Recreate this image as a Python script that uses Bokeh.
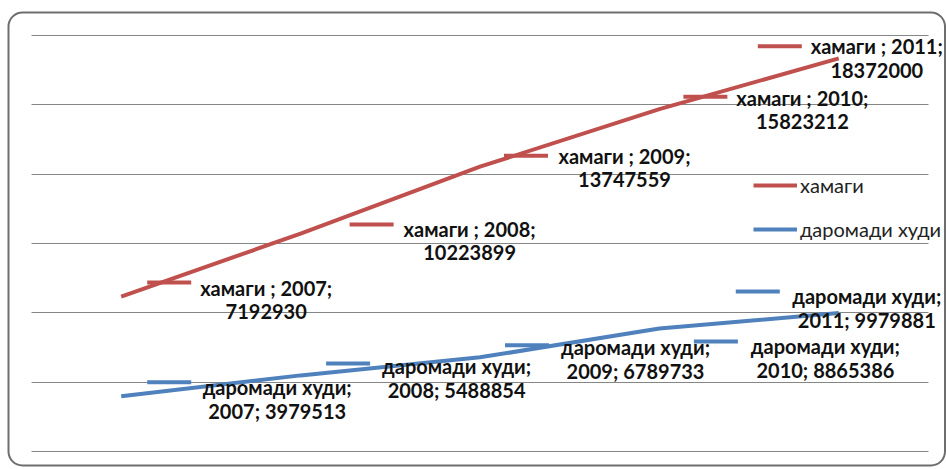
from bokeh.plotting import figure
from bokeh.models import (ColumnDataSource, Range1d, SingleIntervalTicker, Legend,
                          LegendItem, BoxAnnotation)
from bokeh.core.properties import value
from bokeh.embed import file_html
from bokeh.resources import INLINE

# ---- data ----
years = ["2007", "2008", "2009", "2010", "2011"]
hamagi = [7192930, 10223899, 13747559, 15823212, 18372000]
daromad = [3979513, 5488854, 6789733, 8865386, 9979881]
series_names = ["хамаги", "даромади худи"]

RED = "#C0504D"
BLUE = "#4F81BD"
FONT = "Lato"

W, H = 946, 469
# plot-area geometry in canvas pixels
PA_L, PA_R = 31, 928
PA_T, PA_B = 35, 451
Y_MAX = 30e6
PXX = (PA_R - PA_L) / len(years)
PXY = (PA_B - PA_T) / Y_MAX

x_start = -0.5 - PA_L / PXX
x_end = -0.5 + (W - PA_L) / PXX
y_start = -(H - PA_B) / PXY
y_end = PA_B / PXY

xs = list(range(len(years)))
blue_y = list(daromad)
red_y = [b + r for b, r in zip(daromad, hamagi)]  # stacked line

p = figure(width=W, height=H, output_backend="svg", toolbar_location=None,
           x_range=Range1d(x_start, x_end), y_range=Range1d(y_start, y_end),
           min_border=0)
p.xaxis.visible = False
p.yaxis.visible = False
p.yaxis.ticker = SingleIntervalTicker(interval=5e6)
p.ygrid.ticker = SingleIntervalTicker(interval=5e6)
p.ygrid.bounds = (0, Y_MAX)
p.ygrid.cross_bounds = (-0.5, len(years) - 0.5)
p.xgrid.visible = False
p.ygrid.grid_line_color = "#868686"
p.ygrid.grid_line_width = 1
p.outline_line_color = None
p.background_fill_color = "white"
p.border_fill_color = "white"

# rounded chart border
p.add_layout(BoxAnnotation(left=-0.5 - (PA_L - 8) / PXX,
                           right=-0.5 + (W - 1.5 - PA_L) / PXX,
                           top=Y_MAX + (PA_T - 12) / PXY,
                           bottom=-(465 - PA_B) / PXY,
                           fill_color=None, fill_alpha=0,
                           line_color="#6e6e6e", line_width=2, line_alpha=1,
                           border_radius=14))

r_red = p.line(xs, red_y, line_color=RED, line_width=4)
r_blue = p.line(xs, blue_y, line_color=BLUE, line_width=4)

# ---- data labels (pixel offsets from each point; screen y down) ----
red_lab = dict(dx=[145, 169, 144.5, 143, 38], dy1=[-9, -5, -11, -11.5, -12],
               kdx=[48, 71, 46, 46, -59], kdy=[-14, -9, -11, -12.5, -12])
blue_lab = dict(dx=[156, 156, 155.5, 166, 28], dy1=[-9, -9, -10, 17, -17.5],
                kdx=[48, 47.5, 47, 56.5, -81], kdy=[-14, -12, -12, 13, -21.5])
LINE_GAP = 24

def add_labels(yv, lab, l1, l2, color):
    src = ColumnDataSource(dict(
        x=xs, y=yv, t1=l1, t2=l2, dx=lab["dx"], dy1=lab["dy1"],
        dy2=[d + LINE_GAP for d in lab["dy1"]],
        kx=[i + k / PXX for i, k in zip(xs, lab["kdx"])],
        ky=[v - k / PXY for v, k in zip(yv, lab["kdy"])]))
    p.rect(x="kx", y="ky", width=44, height=4, width_units="screen",
           height_units="screen", fill_color=color, line_color=None, source=src)
    for t, dy in (("t1", "dy1"), ("t2", "dy2")):
        p.text(x="x", y="y", text=t, x_offset="dx", y_offset=dy, source=src,
               text_font=value(FONT), text_font_style="bold",
               text_font_size="20px", text_color="#111111",
               text_align="center", text_baseline="middle")

add_labels(red_y, red_lab, [f"{series_names[0]} ; {y};" for y in years],
           [str(v) for v in hamagi], RED)
add_labels(blue_y, blue_lab, [f"{series_names[1]};" for _ in years],
           [f"{y}; {v}" for y, v in zip(years, daromad)], BLUE)

legend = Legend(items=[LegendItem(label=series_names[0], renderers=[r_red]),
                       LegendItem(label=series_names[1], renderers=[r_blue])],
                location=(753, H - 241))
legend.background_fill_alpha = 0
legend.border_line_color = None
legend.padding = 0
legend.margin = 0
legend.spacing = 20
legend.glyph_width = 44
legend.glyph_height = 20
legend.label_height = 20
legend.label_standoff = 3
legend.label_text_font = FONT
legend.label_text_font_size = "20px"
legend.label_text_color = "#222222"
p.add_layout(legend, "center")

open("out.html", "w").write(file_html(p, INLINE))
